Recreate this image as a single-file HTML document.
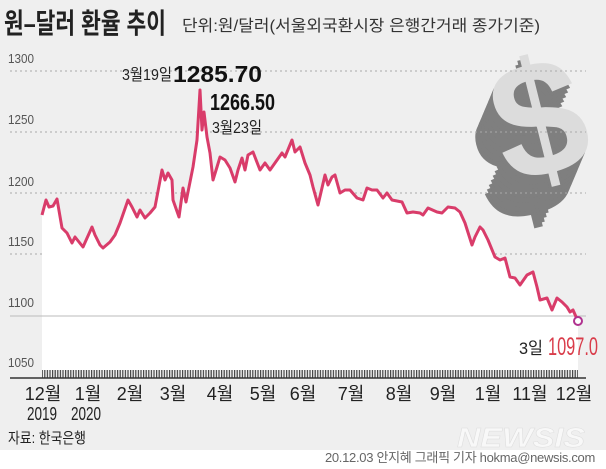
<!DOCTYPE html>
<html><head><meta charset="utf-8"><style>
html,body{margin:0;padding:0}
body{width:606px;height:469px;background:#fff;overflow:hidden;font-family:"Liberation Sans","Noto Sans CJK KR",sans-serif}
</style></head><body>
<svg width="606" height="469" viewBox="0 0 606 469" xmlns="http://www.w3.org/2000/svg" style="display:block;font-family:'Liberation Sans','Noto Sans CJK KR',sans-serif">
<defs>
<pattern id="tk" width="2.6" height="12" patternUnits="userSpaceOnUse"><rect width="1.2" height="12" fill="#444"/></pattern>
</defs>
<rect width="606" height="450" fill="#efefef"/>
<!-- dollar -->
<g font-weight="bold" font-size="165" transform="rotate(-14 540 135)">
<text x="470" y="212" fill="#7f7f7f">$</text>
<text x="473" y="208" fill="#7f7f7f">$</text>
<text x="476" y="204" fill="#7f7f7f">$</text>
<text x="479" y="200" fill="#7f7f7f">$</text>
<text x="482" y="196" fill="#7f7f7f">$</text>
<text x="485" y="192" fill="#7f7f7f">$</text>
<text x="488" y="188" fill="#7f7f7f">$</text>
<text x="491" y="184" fill="#7f7f7f">$</text>
<text x="494" y="180" fill="#7f7f7f">$</text>
<text x="497" y="176" fill="#dcdcdc">$</text>
</g>
<!-- grid -->
<g stroke="#aaa" stroke-dasharray="2,3" stroke-width="1">
<line x1="10" y1="71" x2="586" y2="71"/><line x1="10" y1="132" x2="586" y2="132"/>
<line x1="10" y1="193" x2="586" y2="193"/><line x1="10" y1="254" x2="586" y2="254"/>
</g>
<polygon fill="#fff" points="42,370 42,215 46,200 49,207 53,206 57,199 62,228 67,233 72,243 75,237 83,247 92,227 95,235 100,245 103,248 110,242 115,235 120,223 128,200 132,207 137,217 140,210 145,218 150,213 155,207 162,170 165,180 168,173 172,180 173,200 179,217 183,188 186,202 193,167 197,140 200,90 202,130 204,112 207,137 210,153 213,180 217,167 220,157 225,160 230,168 235,182 238,170 242,158 245,170 248,155 253,152 260,170 265,163 270,170 282,153 285,157 292,140 295,152 300,147 305,163 310,175 313,187 318,205 325,175 328,185 332,177 335,175 340,193 345,190 350,190 357,198 363,200 367,188 372,190 377,190 383,198 387,193 392,200 402,202 407,213 413,212 420,213 423,215 428,208 437,212 442,213 448,207 455,208 460,212 465,223 472,245 475,237 480,227 483,230 488,240 495,257 500,260 505,258 510,277 515,278 520,285 527,275 533,272 537,287 540,300 547,298 552,310 557,298 562,302 567,307 570,312 573,310 578,321 578,370"/>
<line x1="10" y1="316" x2="586" y2="316" stroke="#bbb" stroke-width="1"/>
<polyline fill="none" stroke="#d93c6a" stroke-width="3" stroke-linejoin="round" points="42,215 46,200 49,207 53,206 57,199 62,228 67,233 72,243 75,237 83,247 92,227 95,235 100,245 103,248 110,242 115,235 120,223 128,200 132,207 137,217 140,210 145,218 150,213 155,207 162,170 165,180 168,173 172,180 173,200 179,217 183,188 186,202 193,167 197,140 200,90 202,130 204,112 207,137 210,153 213,180 217,167 220,157 225,160 230,168 235,182 238,170 242,158 245,170 248,155 253,152 260,170 265,163 270,170 282,153 285,157 292,140 295,152 300,147 305,163 310,175 313,187 318,205 325,175 328,185 332,177 335,175 340,193 345,190 350,190 357,198 363,200 367,188 372,190 377,190 383,198 387,193 392,200 402,202 407,213 413,212 420,213 423,215 428,208 437,212 442,213 448,207 455,208 460,212 465,223 472,245 475,237 480,227 483,230 488,240 495,257 500,260 505,258 510,277 515,278 520,285 527,275 533,272 537,287 540,300 547,298 552,310 557,298 562,302 567,307 570,312 573,310 577,319"/>
<circle cx="578" cy="321" r="4" fill="#fff" stroke="#b0328f" stroke-width="2"/>
<!-- ticks & axis -->
<rect x="42" y="370" width="536" height="8" fill="url(#tk)"/>
<line x1="10" y1="378" x2="586" y2="378" stroke="#333" stroke-width="1.5"/>
<!-- y labels -->
<g font-size="13" fill="#555">
<text x="8" y="63" textLength="26" lengthAdjust="spacingAndGlyphs">1300</text>
<text x="8" y="124" textLength="26" lengthAdjust="spacingAndGlyphs">1250</text>
<text x="8" y="186" textLength="26" lengthAdjust="spacingAndGlyphs">1200</text>
<text x="8" y="246" textLength="26" lengthAdjust="spacingAndGlyphs">1150</text>
<text x="8" y="307" textLength="26" lengthAdjust="spacingAndGlyphs">1100</text>
<text x="8" y="367" textLength="26" lengthAdjust="spacingAndGlyphs">1050</text>
</g>
<!-- title -->
<text x="4" y="33" font-size="28" font-weight="bold" fill="#222" textLength="162" lengthAdjust="spacingAndGlyphs">원–달러 환율 추이</text>
<text x="182" y="31" font-size="16" fill="#333" textLength="358" lengthAdjust="spacingAndGlyphs">단위:원/달러(서울외국환시장 은행간거래 종가기준)</text>
<!-- annotations -->
<text x="122" y="80" font-size="16" fill="#222" textLength="50" lengthAdjust="spacingAndGlyphs">3월19일</text>
<text x="173" y="82" font-size="23" font-weight="bold" fill="#111" textLength="89" lengthAdjust="spacingAndGlyphs">1285.70</text>
<text x="210" y="110" font-size="23" font-weight="bold" fill="#111" textLength="65" lengthAdjust="spacingAndGlyphs">1266.50</text>
<text x="212" y="133" font-size="16" fill="#222" textLength="50" lengthAdjust="spacingAndGlyphs">3월23일</text>
<text x="519" y="354" font-size="17" fill="#222" textLength="24" lengthAdjust="spacingAndGlyphs">3일</text>
<text x="548" y="355" font-size="25" fill="#d93c4a" textLength="50" lengthAdjust="spacingAndGlyphs">1097.0</text>
<!-- x labels -->
<g font-size="18" fill="#222" text-anchor="middle">
<text x="43" y="400">12월</text><text x="88" y="400">1월</text><text x="130" y="400">2월</text>
<text x="173" y="400">3월</text><text x="220" y="400">4월</text><text x="263" y="400">5월</text>
<text x="303" y="400">6월</text><text x="351" y="400">7월</text><text x="399" y="400">8월</text>
<text x="443" y="400">9월</text><text x="488" y="400">1월</text><text x="530" y="400">11월</text>
<text x="574" y="400">12월</text>
<text x="42" y="420" textLength="30" lengthAdjust="spacingAndGlyphs">2019</text>
<text x="86" y="420" textLength="30" lengthAdjust="spacingAndGlyphs">2020</text>
</g>
<text x="8" y="443" font-size="15" fill="#222" textLength="78" lengthAdjust="spacingAndGlyphs">자료: 한국은행</text>
<text x="585" y="447" font-size="28" font-weight="bold" font-style="italic" fill="#f8f8f8" stroke="#ddd" stroke-width="0.5" text-anchor="end" textLength="128" lengthAdjust="spacingAndGlyphs">NEWSIS</text>
<text x="595" y="462" font-size="13" fill="#666" text-anchor="end" letter-spacing="-0.3">20.12.03 안지혜 그래픽 기자 hokma@newsis.com</text>
</svg>
</body></html>
